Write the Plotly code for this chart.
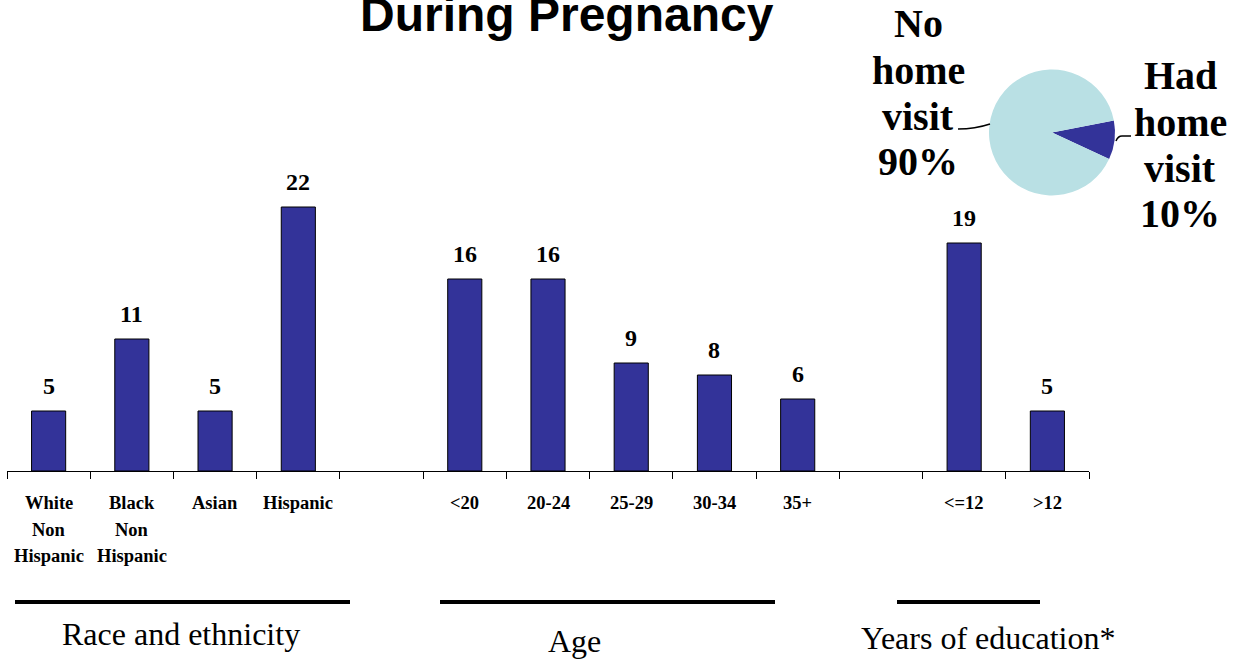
import plotly.graph_objects as go

# ---- data ----
categories = ["White Non Hispanic", "Black Non Hispanic", "Asian", "Hispanic", "gap1",
              "<20", "20-24", "25-29", "30-34", "35+", "gap2", "<=12", ">12"]
tick_lines = [["White", "Non", "Hispanic"], ["Black", "Non", "Hispanic"], ["Asian"], ["Hispanic"], [],
              ["<20"], ["20-24"], ["25-29"], ["30-34"], ["35+"], [], ["<=12"], [">12"]]
values = [5, 11, 5, 22, None, 16, 16, 9, 8, 6, None, 19, 5]

pie_labels = ["Had home visit", "No home visit"]
pie_values = [10, 90]

group_names = ["Race and ethnicity", "Age", "Years of education*"]
title_text = "During Pregnancy"

W, H = 1240, 659
BAR = "#333399"
LIGHT = "#B9E0E4"
SERIF = "Liberation Serif, Times New Roman, serif"
SANS = "Liberation Sans, Arial, sans-serif"


def py(px):
    return (H - px) / H


def px_x(px):
    return px / W


def esc(s):
    return s.replace("<", "&lt;").replace(">", "&gt;")


fig = go.Figure()
fig.add_trace(go.Bar(
    x=categories, y=values, width=0.41,
    marker=dict(color=BAR, line=dict(color="#000000", width=1)),
    hoverinfo="skip", showlegend=False,
))

fig.add_trace(go.Pie(
    labels=pie_labels, values=pie_values, sort=False, direction="clockwise",
    rotation=79, marker=dict(colors=[BAR, LIGHT], line=dict(width=0)),
    textinfo="none", showlegend=False, hoverinfo="skip",
    domain=dict(x=[px_x(989), px_x(1115)], y=[py(196), py(69)]),
))

ann = []
# value labels
for c, v in zip(categories, values):
    if v is None:
        continue
    ann.append(dict(x=c, y=v, xref="x", yref="y", text=f"<b>{v}</b>", showarrow=False,
                    xanchor="center", yanchor="middle", yshift=25,
                    font=dict(family=SERIF, size=24, color="black")))
# tick labels (multi-line, wide spacing)
for c, lines in zip(categories, tick_lines):
    for i, ln in enumerate(lines):
        ann.append(dict(x=c, y=py(503 + 26.5 * i), xref="x", yref="paper", text=f"<b>{esc(ln)}</b>",
                        showarrow=False, xanchor="center", yanchor="middle",
                        font=dict(family=SERIF, size=18.5, color="black")))
# title
ann.append(dict(x=px_x(567), y=py(43), xref="paper", yref="paper", text=f"<b>{title_text}</b>",
                showarrow=False, xanchor="center", yanchor="bottom",
                font=dict(family=SANS, size=48, color="black")))
# pie labels
left_lines = ["No", "home", "visit", f"{pie_values[1]}%"]
right_lines = ["Had", "home", "visit", f"{pie_values[0]}%"]
for i, ln in enumerate(left_lines):
    ann.append(dict(x=px_x(918), y=py(24 + 46 * i), xref="paper", yref="paper", text=f"<b>{ln}</b>",
                    showarrow=False, xanchor="center", yanchor="middle",
                    font=dict(family=SERIF, size=40, color="black")))
for i, ln in enumerate(right_lines):
    ann.append(dict(x=px_x(1180), y=py(76 + 46 * i), xref="paper", yref="paper", text=f"<b>{ln}</b>",
                    showarrow=False, xanchor="center", yanchor="middle",
                    font=dict(family=SERIF, size=40, color="black")))
# group labels
group_pos = [(181, 634), (574, 641), (988, 638)]
for name, (gx, gy) in zip(group_names, group_pos):
    ann.append(dict(x=px_x(gx), y=py(gy), xref="paper", yref="paper", text=name, showarrow=False,
                    xanchor="center", yanchor="middle",
                    font=dict(family=SERIF, size=32, color="black")))

shapes = []
for x0, x1 in [(15, 350), (440, 775), (897, 1040)]:
    shapes.append(dict(type="line", xref="paper", yref="paper", x0=px_x(x0), x1=px_x(x1),
                       y0=py(602), y1=py(602), line=dict(color="black", width=4)))
# leader lines
shapes.append(dict(type="path", xref="paper", yref="paper",
                   path=f"M {px_x(958)} {py(129)} Q {px_x(975)} {py(129)} {px_x(990)} {py(124)}",
                   line=dict(color="black", width=1.5)))
shapes.append(dict(type="path", xref="paper", yref="paper",
                   path=f"M {px_x(1116)} {py(141)} Q {px_x(1118)} {py(136)} {px_x(1122)} {py(136)} L {px_x(1131)} {py(136)}",
                   line=dict(color="black", width=1.5)))

fig.update_layout(
    width=W, height=H, margin=dict(l=0, r=0, t=0, b=0),
    paper_bgcolor="white", plot_bgcolor="white",
    annotations=ann, shapes=shapes, bargap=0.59,
    xaxis=dict(domain=[px_x(7), px_x(1089)], type="category", categoryorder="array",
               categoryarray=categories, tickson="boundaries", ticks="outside", ticklen=7,
               tickcolor="black", tickwidth=1, showticklabels=False, showline=True,
               linecolor="black", linewidth=1, showgrid=False, zeroline=False),
    yaxis=dict(domain=[py(471), 1], range=[0, 471 / 12], visible=False, showgrid=False,
               zeroline=False),
)

fig.write_html("out.html", config={"displayModeBar": False},
               post_script="document.body.style.margin='0';")
